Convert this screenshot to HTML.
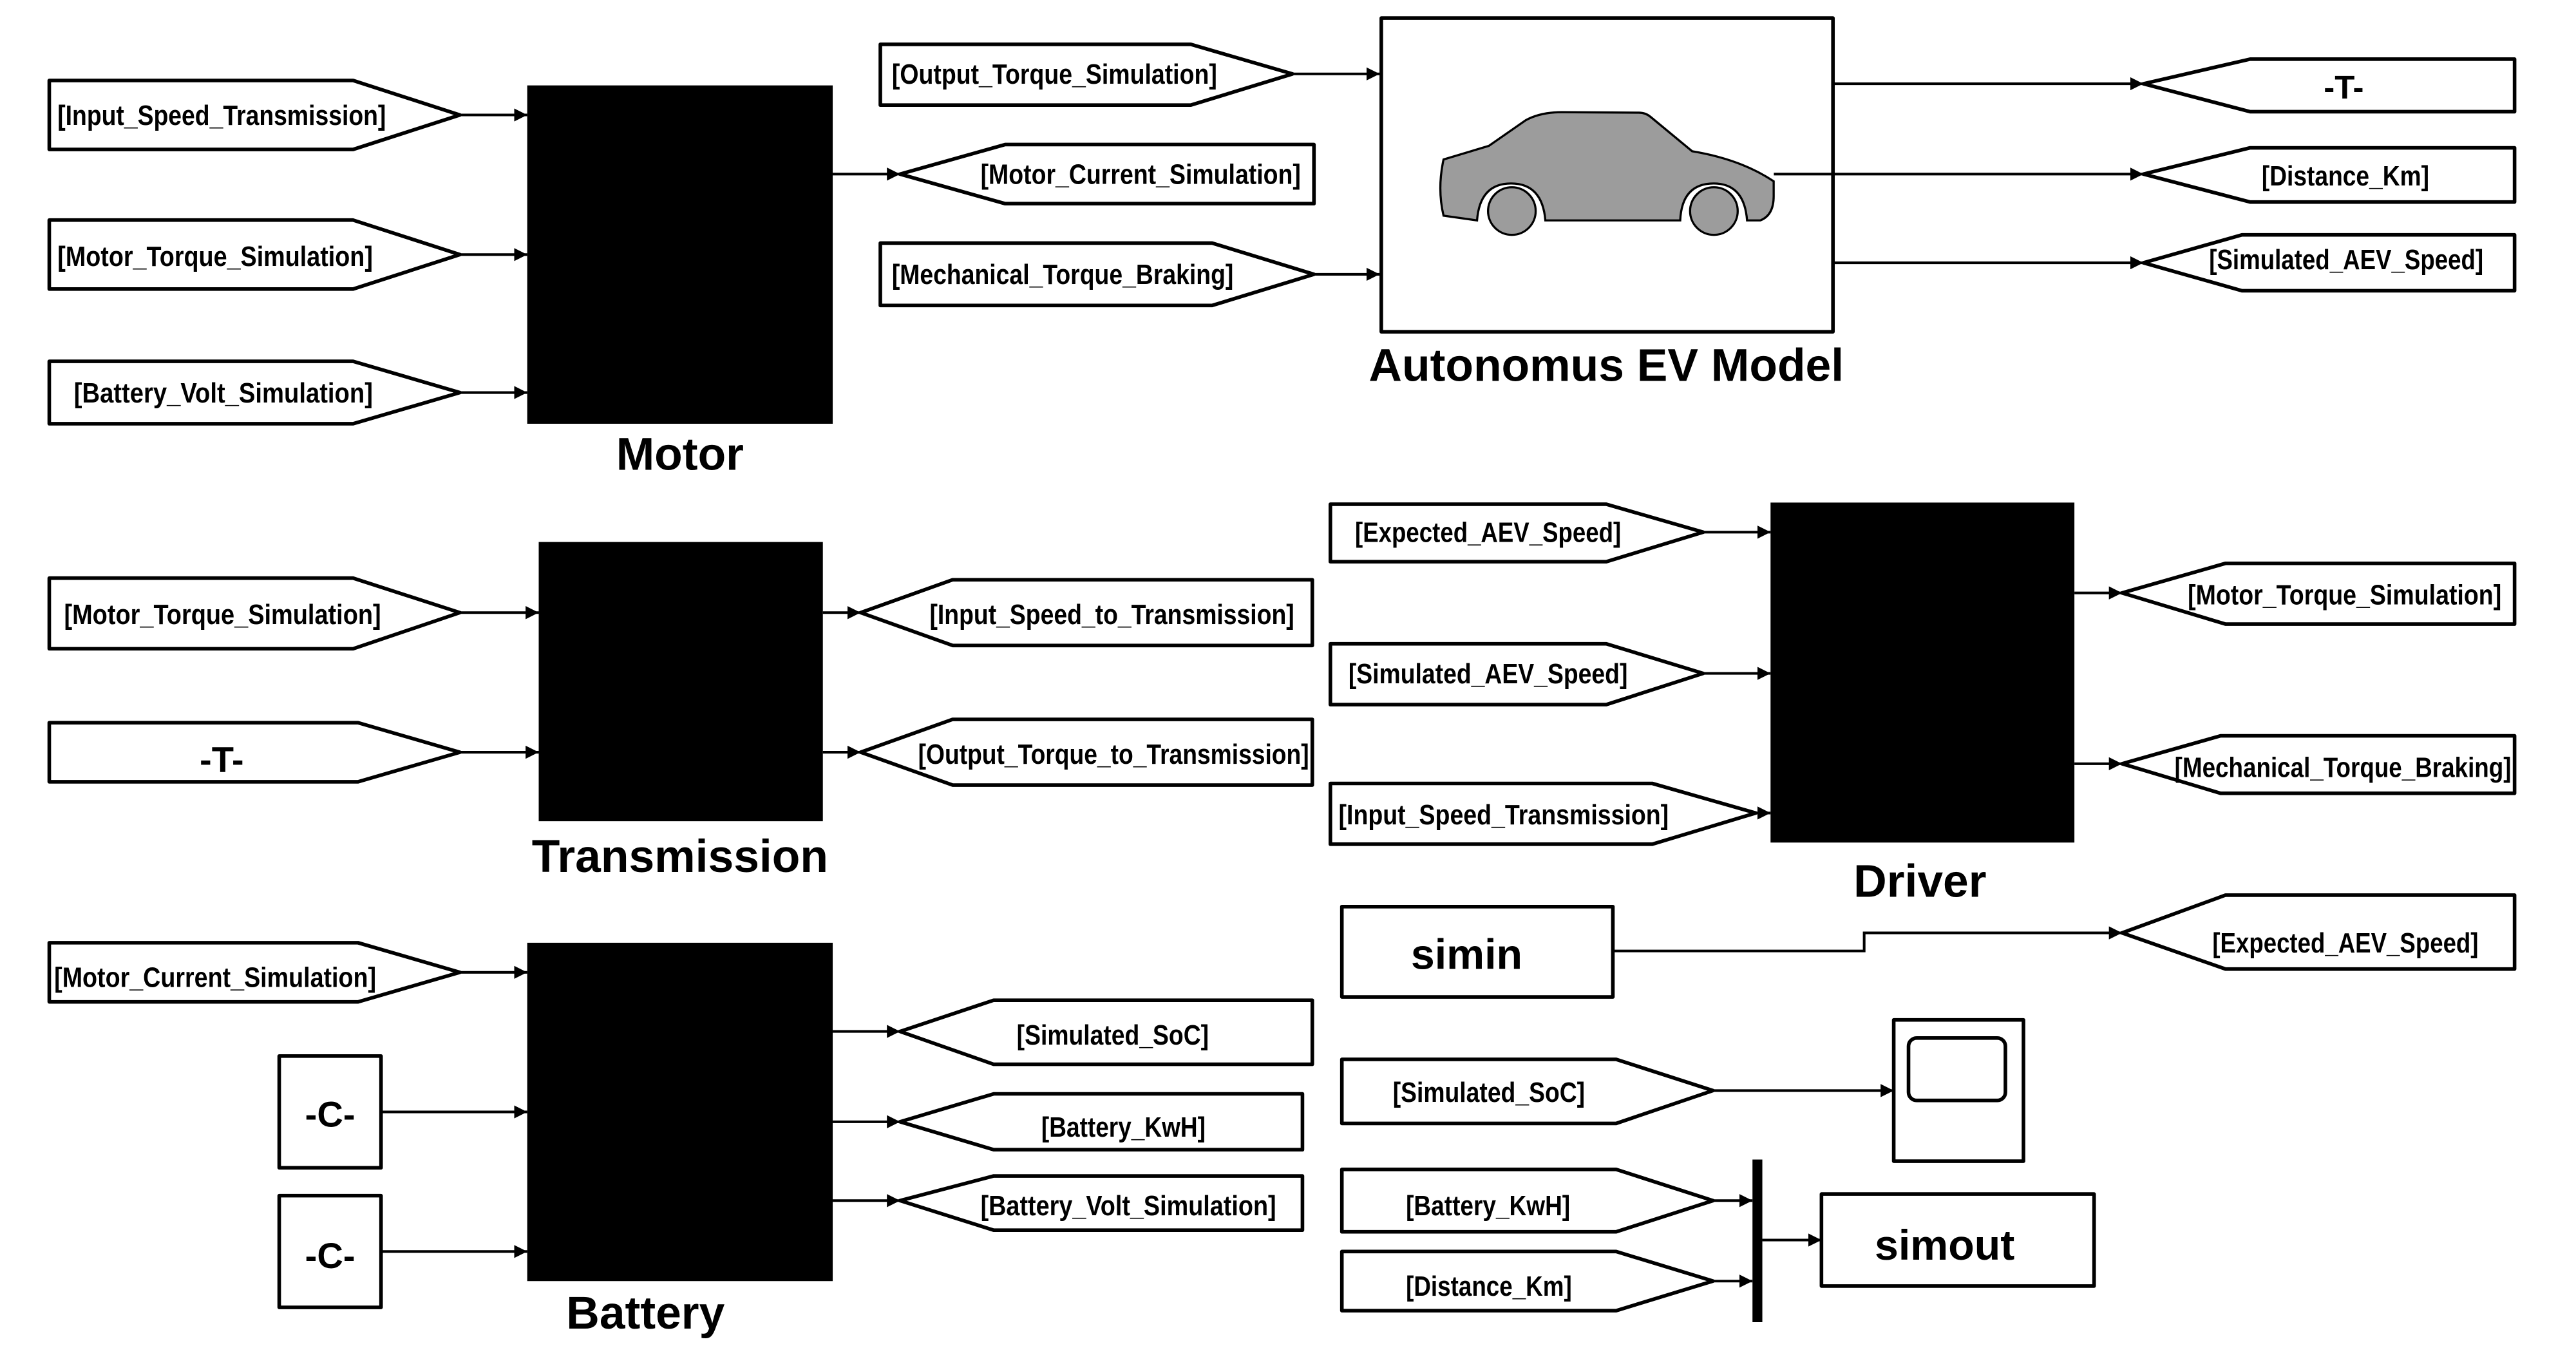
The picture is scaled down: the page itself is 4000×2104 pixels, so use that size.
<!DOCTYPE html>
<html><head><meta charset="utf-8"><style>
html,body{margin:0;padding:0;background:#fff;}
svg{display:block;}
text{font-family:"Liberation Sans",sans-serif;font-weight:bold;fill:#000;}
.t{font-size:17px;}
.L{font-size:28px;text-anchor:middle;}
.s{fill:#fff;stroke:#000;stroke-width:2.2;stroke-linejoin:round;}
.ln{stroke:#000;stroke-width:1.6;fill:none;}
</style></head><body>
<svg width="4000" height="2104" viewBox="0 0 1568.4 825" preserveAspectRatio="none" xmlns="http://www.w3.org/2000/svg">
<defs>
<marker id="a" markerWidth="8" markerHeight="8" refX="8" refY="4" orient="auto" markerUnits="userSpaceOnUse"><path d="M0,0 L8,4 L0,8 z" fill="#000"/></marker>
</defs>
<rect width="1568.4" height="825" fill="#fff"/>

<!-- Motor -->
<polygon class="s" points="30,49 215,49 280,70 215,91 30,91"/>
<text class="t" x="35" y="76" textLength="200" lengthAdjust="spacingAndGlyphs">[Input_Speed_Transmission]</text>
<polygon class="s" points="30,134 215,134 280,155 215,176 30,176"/>
<text class="t" x="35" y="162" textLength="192" lengthAdjust="spacingAndGlyphs">[Motor_Torque_Simulation]</text>
<polygon class="s" points="30,220 215,220 280,239 215,258 30,258"/>
<text class="t" x="45" y="245" textLength="182" lengthAdjust="spacingAndGlyphs">[Battery_Volt_Simulation]</text>
<line class="ln" x1="280" y1="70" x2="321" y2="70" marker-end="url(#a)"/>
<line class="ln" x1="280" y1="155" x2="321" y2="155" marker-end="url(#a)"/>
<line class="ln" x1="280" y1="239" x2="321" y2="239" marker-end="url(#a)"/>
<rect x="321" y="52" width="186" height="206" fill="#000"/>
<text class="L" x="414" y="286">Motor</text>

<polygon class="s" points="536,27 725,27 787,45 725,64 536,64"/>
<text class="t" x="543" y="51" textLength="198" lengthAdjust="spacingAndGlyphs">[Output_Torque_Simulation]</text>
<line class="ln" x1="787" y1="45" x2="840" y2="45" marker-end="url(#a)"/>
<line class="ln" x1="507" y1="106" x2="548" y2="106" marker-end="url(#a)"/>
<polygon class="s" points="548,106 612,88 800,88 800,124 612,124"/>
<text class="t" x="597" y="112" textLength="195" lengthAdjust="spacingAndGlyphs">[Motor_Current_Simulation]</text>
<polygon class="s" points="536,148 738,148 800,167 738,186 536,186"/>
<text class="t" x="543" y="173" textLength="208" lengthAdjust="spacingAndGlyphs">[Mechanical_Torque_Braking]</text>
<line class="ln" x1="800" y1="167" x2="840" y2="167" marker-end="url(#a)"/>

<rect class="s" x="841" y="11" width="275" height="191"/>
<path d="M878.9,97.1 L906.5,88.8 L929.1,73.1 Q938,68.3 950.8,68.3 L997.8,68.6 Q1002,68.6 1005,71.2 L1030.3,92.1 Q1060,97 1079.9,110.4 L1079.9,119.6 Q1079.9,131 1071.8,134.2 L1063.7,134.2 Q1062,111.7 1043.4,111.7 Q1024,111.7 1023,134.2 L940.9,134.2 Q939,111.7 920,111.7 Q901,111.7 899.3,134.2 L878.9,131.3 Q875,115 878.9,97.1 z" fill="#9c9c9c" stroke="#000" stroke-width="1.3"/>
<circle cx="920.5" cy="128.5" r="14.5" fill="#9c9c9c" stroke="#000" stroke-width="1.3"/>
<circle cx="1043.5" cy="128.5" r="14.5" fill="#9c9c9c" stroke="#000" stroke-width="1.3"/>
<text class="L" x="978" y="232">Autonomus EV Model</text>

<line class="ln" x1="1116" y1="51" x2="1305" y2="51" marker-end="url(#a)"/>
<line class="ln" x1="1080" y1="106" x2="1305" y2="106" marker-end="url(#a)"/>
<line class="ln" x1="1116" y1="160" x2="1305" y2="160" marker-end="url(#a)"/>
<polygon class="s" points="1305,51 1370,36 1531,36 1531,68 1370,68"/>
<text class="t" x="1427" y="60" text-anchor="middle" style="font-size:20px">-T-</text>
<polygon class="s" points="1305,106 1370,90 1531,90 1531,123 1370,123"/>
<text class="t" x="1377" y="113" textLength="102" lengthAdjust="spacingAndGlyphs">[Distance_Km]</text>
<polygon class="s" points="1305,160 1365,143 1531,143 1531,177 1365,177"/>
<text class="t" x="1345" y="164" textLength="167" lengthAdjust="spacingAndGlyphs">[Simulated_AEV_Speed]</text>

<!-- Transmission -->
<polygon class="s" points="30,352 215,352 280,373 215,395 30,395"/>
<text class="t" x="39" y="380" textLength="193" lengthAdjust="spacingAndGlyphs">[Motor_Torque_Simulation]</text>
<polygon class="s" points="30,440 218,440 280,458 218,476 30,476"/>
<text class="t" x="135" y="470" text-anchor="middle" style="font-size:22px">-T-</text>
<line class="ln" x1="280" y1="373" x2="328" y2="373" marker-end="url(#a)"/>
<line class="ln" x1="280" y1="458" x2="328" y2="458" marker-end="url(#a)"/>
<rect x="328" y="330" width="173" height="170" fill="#000"/>
<text class="L" x="414" y="531">Transmission</text>
<line class="ln" x1="501" y1="373" x2="524" y2="373" marker-end="url(#a)"/>
<line class="ln" x1="501" y1="458" x2="524" y2="458" marker-end="url(#a)"/>
<polygon class="s" points="524,373 580,353 799,353 799,393 580,393"/>
<text class="t" x="566" y="380" textLength="222" lengthAdjust="spacingAndGlyphs">[Input_Speed_to_Transmission]</text>
<polygon class="s" points="524,458 580,438 799,438 799,478 580,478"/>
<text class="t" x="559" y="465" textLength="238" lengthAdjust="spacingAndGlyphs">[Output_Torque_to_Transmission]</text>

<!-- Battery -->
<polygon class="s" points="30,574 218,574 280,592 218,610 30,610"/>
<text class="t" x="33" y="601" textLength="196" lengthAdjust="spacingAndGlyphs">[Motor_Current_Simulation]</text>
<rect class="s" x="170" y="643" width="62" height="68"/>
<text class="t" x="201" y="686" text-anchor="middle" style="font-size:22px">-C-</text>
<rect class="s" x="170" y="728" width="62" height="68"/>
<text class="t" x="201" y="772" text-anchor="middle" style="font-size:22px">-C-</text>
<line class="ln" x1="280" y1="592" x2="321" y2="592" marker-end="url(#a)"/>
<line class="ln" x1="232" y1="677" x2="321" y2="677" marker-end="url(#a)"/>
<line class="ln" x1="232" y1="762" x2="321" y2="762" marker-end="url(#a)"/>
<rect x="321" y="574" width="186" height="206" fill="#000"/>
<text class="L" x="393" y="809">Battery</text>
<line class="ln" x1="507" y1="628" x2="548" y2="628" marker-end="url(#a)"/>
<line class="ln" x1="507" y1="683" x2="548" y2="683" marker-end="url(#a)"/>
<line class="ln" x1="507" y1="731" x2="548" y2="731" marker-end="url(#a)"/>
<polygon class="s" points="548,628 605,609 799,609 799,648 605,648"/>
<text class="t" x="619" y="636" textLength="117" lengthAdjust="spacingAndGlyphs">[Simulated_SoC]</text>
<polygon class="s" points="548,683 605,666 793,666 793,700 605,700"/>
<text class="t" x="634" y="692" textLength="100" lengthAdjust="spacingAndGlyphs">[Battery_KwH]</text>
<polygon class="s" points="548,731 605,716 793,716 793,749 605,749"/>
<text class="t" x="597" y="740" textLength="180" lengthAdjust="spacingAndGlyphs">[Battery_Volt_Simulation]</text>

<!-- Driver -->
<polygon class="s" points="810,307 978,307 1037,324 978,342 810,342"/>
<text class="t" x="825" y="330" textLength="162" lengthAdjust="spacingAndGlyphs">[Expected_AEV_Speed]</text>
<polygon class="s" points="810,392 978,392 1037,410 978,429 810,429"/>
<text class="t" x="821" y="416" textLength="170" lengthAdjust="spacingAndGlyphs">[Simulated_AEV_Speed]</text>
<polygon class="s" points="810,477 1006,477 1069,495 1006,514 810,514"/>
<text class="t" x="815" y="502" textLength="201" lengthAdjust="spacingAndGlyphs">[Input_Speed_Transmission]</text>
<line class="ln" x1="1037" y1="324" x2="1078" y2="324" marker-end="url(#a)"/>
<line class="ln" x1="1037" y1="410" x2="1078" y2="410" marker-end="url(#a)"/>
<line class="ln" x1="1069" y1="495" x2="1078" y2="495" marker-end="url(#a)"/>
<rect x="1078" y="306" width="185" height="207" fill="#000"/>
<text class="L" x="1169" y="546">Driver</text>
<line class="ln" x1="1263" y1="361" x2="1292" y2="361" marker-end="url(#a)"/>
<line class="ln" x1="1263" y1="465" x2="1292" y2="465" marker-end="url(#a)"/>
<polygon class="s" points="1292,361 1355,343 1531,343 1531,380 1355,380"/>
<text class="t" x="1332" y="368" textLength="191" lengthAdjust="spacingAndGlyphs">[Motor_Torque_Simulation]</text>
<polygon class="s" points="1292,465 1352,448 1531,448 1531,483 1352,483"/>
<text class="t" x="1324" y="473" textLength="205" lengthAdjust="spacingAndGlyphs">[Mechanical_Torque_Braking]</text>

<!-- simin -->
<rect class="s" x="817" y="552" width="165" height="55"/>
<text class="t" x="893" y="590" text-anchor="middle" style="font-size:26px">simin</text>
<polyline class="ln" points="982,579 1135,579 1135,568 1292,568" marker-end="url(#a)"/>
<polygon class="s" points="1292,568 1355,545 1531,545 1531,590 1355,590"/>
<text class="t" x="1347" y="580" textLength="162" lengthAdjust="spacingAndGlyphs">[Expected_AEV_Speed]</text>

<!-- scope -->
<polygon class="s" points="817,645 984,645 1043,664 984,684 817,684"/>
<text class="t" x="848" y="671" textLength="117" lengthAdjust="spacingAndGlyphs">[Simulated_SoC]</text>
<line class="ln" x1="1043" y1="664" x2="1153" y2="664" marker-end="url(#a)"/>
<rect class="s" x="1153" y="621" width="79" height="86"/>
<rect class="s" x="1162" y="632" width="59" height="38" rx="5"/>

<!-- simout -->
<polygon class="s" points="817,712 984,712 1043,731 984,750 817,750"/>
<text class="t" x="856" y="740" textLength="100" lengthAdjust="spacingAndGlyphs">[Battery_KwH]</text>
<polygon class="s" points="817,762 984,762 1043,780 984,798 817,798"/>
<text class="t" x="856" y="789" textLength="101" lengthAdjust="spacingAndGlyphs">[Distance_Km]</text>
<line class="ln" x1="1043" y1="731" x2="1067" y2="731" marker-end="url(#a)"/>
<line class="ln" x1="1043" y1="780" x2="1067" y2="780" marker-end="url(#a)"/>
<rect x="1067" y="706" width="6" height="99" fill="#000"/>
<line class="ln" x1="1073" y1="755" x2="1109" y2="755" marker-end="url(#a)"/>
<rect class="s" x="1109" y="727" width="166" height="56"/>
<text class="t" x="1184" y="767" text-anchor="middle" style="font-size:26px">simout</text>
</svg>
</body></html>
